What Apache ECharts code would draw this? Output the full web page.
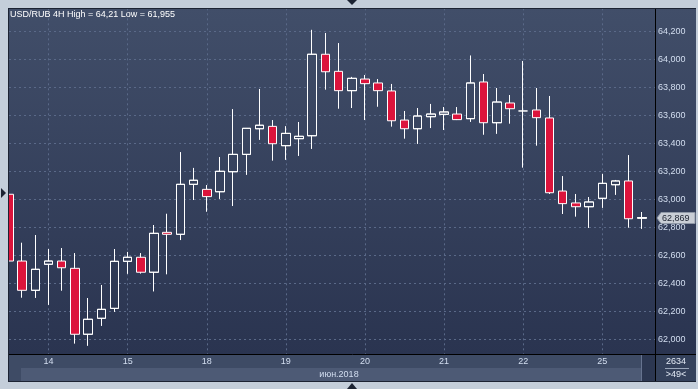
<!DOCTYPE html>
<html><head><meta charset="utf-8">
<script src="https://cdn.jsdelivr.net/npm/echarts@6/dist/echarts.min.js"></script>
<style>html,body{margin:0;padding:0;background:#c4ceda;}#c{width:698px;height:389px;}</style>
</head><body><div id="c"></div>
<script>
// ---- data ----
const titleText = 'USD/RUB 4H High = 64,21 Low = 61,955';
const monthLabel = 'июн.2018';
const barCountText = '2634';
const visibleText = '>49<';
const categories = [
 '13.06 12:00','13.06 16:00','13.06 20:00',
 '14.06 00:00','14.06 04:00','14.06 08:00','14.06 12:00','14.06 16:00','14.06 20:00',
 '15.06 00:00','15.06 04:00','15.06 08:00','15.06 12:00','15.06 16:00','15.06 20:00',
 '18.06 00:00','18.06 04:00','18.06 08:00','18.06 12:00','18.06 16:00','18.06 20:00',
 '19.06 00:00','19.06 04:00','19.06 08:00','19.06 12:00','19.06 16:00','19.06 20:00',
 '20.06 00:00','20.06 04:00','20.06 08:00','20.06 12:00','20.06 16:00','20.06 20:00',
 '21.06 00:00','21.06 04:00','21.06 08:00','21.06 12:00','21.06 16:00','21.06 20:00',
 '22.06 00:00','22.06 04:00','22.06 08:00','22.06 12:00','22.06 16:00','22.06 20:00',
 '25.06 00:00','25.06 04:00','25.06 08:00','25.06 12:00'
];
const openV  = [63.036,62.559,62.350,62.536,62.559,62.507,62.036,62.150,62.221,62.557,62.586,62.479,62.764,62.750,63.107,63.071,63.054,63.197,63.321,63.504,63.521,63.383,63.433,63.454,64.036,63.914,63.776,63.859,63.831,63.774,63.566,63.504,63.590,63.607,63.609,63.576,63.838,63.547,63.688,63.631,63.638,63.581,63.059,62.974,62.947,63.007,63.104,63.131,62.865];
const closeV = [62.559,62.350,62.500,62.559,62.511,62.036,62.143,62.214,62.557,62.586,62.479,62.757,62.750,63.107,63.136,63.019,63.200,63.321,63.507,63.529,63.397,63.471,63.450,64.036,63.911,63.776,63.864,63.826,63.776,63.561,63.504,63.595,63.609,63.624,63.569,63.831,63.547,63.695,63.647,63.631,63.583,63.047,62.969,62.947,62.981,63.114,63.131,62.861,62.869];
const lowV   = [62.550,62.297,62.297,62.247,62.347,61.969,61.955,62.097,62.197,62.469,62.469,62.343,62.464,62.709,62.995,62.911,63.004,62.952,63.176,63.426,63.276,63.283,63.311,63.361,63.783,63.647,63.652,63.566,63.661,63.519,63.433,63.397,63.509,63.495,63.566,63.554,63.461,63.469,63.540,63.226,63.383,63.038,62.895,62.876,62.797,62.940,63.033,62.797,62.790];
const highV  = [63.040,62.690,62.745,62.645,62.652,62.616,62.295,62.388,62.645,62.624,62.616,62.816,62.897,63.336,63.224,63.102,63.302,63.643,63.507,63.788,63.566,63.521,63.552,64.210,64.188,64.116,63.874,63.888,63.859,63.824,63.631,63.652,63.681,63.659,63.659,64.026,63.895,63.795,63.745,63.988,63.795,63.738,63.166,63.038,63.016,63.181,63.138,63.316,62.909];
const yMin = 61.8, yMax = 64.4, yStep = 0.2;

// ---- build ----
const cats = categories.concat(['']);
const ohlc = openV.map((o, i) => [o, closeV[i], lowV[i], highV[i]]);
const lastClose = closeV[closeV.length - 1];
const fmt = v => v.toFixed(3).replace('.', ',');
const isDayStart = (idx, val) => typeof val === 'string' && val.endsWith('00:00');
const FONT = 'Liberation Sans, Arial, sans-serif';

const bgStops = [{offset: 0, color: '#414e69'}, {offset: 1, color: '#2a3450'}];
const G = echarts.graphic.LinearGradient;
const FRAME = '#c4ceda';

const graphics = [
  {type: 'rect', z: -10, shape: {x: 8, y: 8, width: 688, height: 346}, style: {fill: new G(0, 0, 0, 1, bgStops)}},
  // frame bands
  {type: 'rect', z: 5, shape: {x: 0, y: 0, width: 698, height: 8}, style: {fill: FRAME}},
  {type: 'rect', z: 5, shape: {x: 0, y: 0, width: 8, height: 389}, style: {fill: FRAME}},
  {type: 'line', z: 6, shape: {x1: 8, y1: 8.5, x2: 696, y2: 8.5}, style: {stroke: '#1c2333', lineWidth: 1}},
  {type: 'line', z: 6, shape: {x1: 8.5, y1: 8, x2: 8.5, y2: 381}, style: {stroke: '#1c2333', lineWidth: 1}},
  // bottom strips
  {type: 'rect', z: 5, shape: {x: 9, y: 354, width: 687, height: 27}, style: {fill: '#3e4b65'}},
  {type: 'rect', z: 5, shape: {x: 21, y: 368, width: 620, height: 13}, style: {fill: '#4d5a75'}},
  {type: 'rect', z: 5, shape: {x: 641, y: 355, width: 14, height: 26}, style: {fill: '#2c3751'}},
  {type: 'line', z: 6, shape: {x1: 641.5, y1: 355, x2: 641.5, y2: 381}, style: {stroke: '#66738f', lineWidth: 1}},
  {type: 'rect', z: 5, shape: {x: 655, y: 354, width: 41, height: 27}, style: {fill: '#34415b'}},
  {type: 'rect', z: 5, shape: {x: 0, y: 381, width: 698, height: 8}, style: {fill: FRAME}},
  {type: 'line', z: 6, shape: {x1: 8, y1: 381.5, x2: 696, y2: 381.5}, style: {stroke: '#1c2333', lineWidth: 1}},
  {type: 'rect', z: 5, shape: {x: 696, y: 0, width: 2, height: 389}, style: {fill: FRAME}},
  // black separators
  {type: 'line', z: 7, shape: {x1: 9, y1: 354.5, x2: 696, y2: 354.5}, style: {stroke: '#000000', lineWidth: 1}},
  {type: 'line', z: 7, shape: {x1: 655.5, y1: 9, x2: 655.5, y2: 381}, style: {stroke: '#000000', lineWidth: 1}},
  // texts in strips
  {type: 'text', z: 8, style: {text: monthLabel, x: 339, y: 374.5, align: 'center', verticalAlign: 'middle', fill: '#d3def0', fontSize: 9, fontFamily: FONT}},
  {type: 'text', z: 8, style: {text: barCountText, x: 676, y: 362, align: 'center', verticalAlign: 'middle', fill: '#e3eaf5', fontSize: 9, fontFamily: FONT}},
  {type: 'line', z: 8, shape: {x1: 665, y1: 368.5, x2: 689, y2: 368.5}, style: {stroke: '#9aa6ba', lineWidth: 1}},
  {type: 'text', z: 8, style: {text: visibleText, x: 676, y: 374.5, align: 'center', verticalAlign: 'middle', fill: '#e3eaf5', fontSize: 9, fontFamily: FONT}},
  // navigation triangles
  {type: 'polygon', z: 8, shape: {points: [[347, 0], [357, 0], [352, 5]]}, style: {fill: '#1c2333'}},
  {type: 'polygon', z: 8, shape: {points: [[347, 389], [357, 389], [352, 383]]}, style: {fill: '#1c2333'}},
  {type: 'polygon', z: 8, shape: {points: [[1, 188], [1, 198], [6, 193]]}, style: {fill: '#1c2333'}}
];

const option = {
  backgroundColor: FRAME,
  animation: false,
  title: {
    text: titleText, left: 10, top: 10, padding: 0,
    textStyle: {color: '#ffffff', fontSize: 9, fontWeight: 'normal', fontFamily: FONT}
  },
  grid: {left: 9, top: 3.3, width: 646, height: 364, containLabel: false},
  xAxis: [{
    type: 'category', data: cats, boundaryGap: false,
    axisLine: {show: false}, axisTick: {show: false}, axisLabel: {show: false},
    splitLine: {show: true, interval: isDayStart, lineStyle: {color: '#5a6988', type: [2, 3], width: 1}}
  }, {
    type: 'category', data: cats, boundaryGap: false, position: 'bottom', offset: -13.3, z: 10,
    axisLine: {show: false}, axisTick: {show: false}, splitLine: {show: false},
    axisLabel: {show: true, interval: isDayStart, margin: 3, color: '#d3def0', fontSize: 9,
      fontFamily: FONT, formatter: v => v.slice(0, 2)}
  }],
  yAxis: {
    type: 'value', position: 'right', min: yMin, max: yMax, interval: yStep, scale: true,
    axisLine: {show: false}, axisTick: {show: false},
    axisLabel: {margin: 3, color: '#d3def0', fontSize: 9, fontFamily: FONT,
      formatter: v => (v > yMax - 0.05 || v < yMin + 0.05) ? '' : fmt(v)},
    splitLine: {show: true, lineStyle: {color: '#5a6988', type: [2, 3], width: 1}}
  },
  series: [{
    type: 'candlestick', xAxisIndex: 0, data: ohlc, barWidth: 9, clip: true,
    itemStyle: {
      color: new G(0, 8, 0, 354, bgStops, true), color0: '#dc143c',
      borderColor: '#ffffff', borderColor0: '#ffffff', borderWidth: 1
    }
  }],
  graphic: {elements: graphics}
};

const chart = echarts.init(document.getElementById('c'), null, {renderer: 'canvas'});
chart.setOption(option);

// current price tag, positioned through the y axis scale
const py = Math.round(chart.convertToPixel({yAxisIndex: 0}, lastClose));
graphics.push({
  type: 'group', z: 20, x: 656, y: py,
  children: [
    {type: 'polygon', z: 20, shape: {points: [[1, 0], [5, -5.5], [39, -5.5], [39, 5.5], [5, 5.5]]},
      style: {fill: '#c9ced6', stroke: '#8e97a6', lineWidth: 1}},
    {type: 'text', z: 21, style: {text: fmt(lastClose), x: 6, y: 0.5, verticalAlign: 'middle',
      fill: '#1c2230', fontSize: 9, fontFamily: FONT}}
  ]
});
chart.setOption(option, true);
</script></body></html>
